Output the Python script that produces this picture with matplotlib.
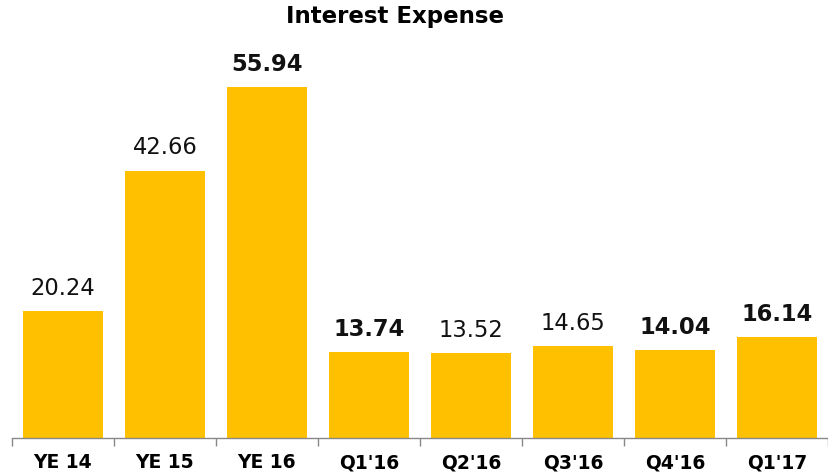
import matplotlib
matplotlib.use("Agg")
import matplotlib.pyplot as plt

categories = ["YE 14", "YE 15", "YE 16", "Q1'16", "Q2'16", "Q3'16", "Q4'16", "Q1'17"]
values = [20.24, 42.66, 55.94, 13.74, 13.52, 14.65, 14.04, 16.14]
bold_labels = [False, False, True, True, False, False, True, True]

W, H = 829, 472
fig = plt.figure(figsize=(W / 100, H / 100), dpi=100)
left, right, bottom, top = 12, 828, 438, 40
ax = fig.add_axes([left / W, 1 - bottom / H, (right - left) / W, (bottom - top) / H])

px_per_unit = 6.27
ax.set_ylim(0, (bottom - top) / px_per_unit)
ax.set_xlim(-0.5, len(categories) - 0.5)

x = range(len(categories))
bars = ax.bar(x, values, width=0.78, color="#FFC000", edgecolor="none")

for xi, v, b in zip(x, values, bold_labels):
    ax.annotate(f"{v:.2f}", (xi, v), xytext=(0, 8), textcoords="offset points",
                ha="center", va="bottom", fontsize=16.3,
                fontweight="bold" if b else "normal", color="#111111")

for s in ["top", "right", "left"]:
    ax.spines[s].set_visible(False)
ax.spines["bottom"].set_color("#888888")
ax.spines["bottom"].set_linewidth(1.0)
ax.set_yticks([])

ax.set_xticks([i - 0.5 for i in range(len(categories) + 1)], minor=False)
ax.set_xticklabels([])
ax.tick_params(axis="x", which="major", length=6, color="#888888", width=1)
ax.set_xticks(list(x), minor=True)
ax.set_xticklabels(categories, minor=True, fontsize=13.5, fontweight="bold")
ax.tick_params(axis="x", which="minor", length=0, pad=11)

fig.text(395 / W, 1 - 16 / H, "Interest Expense", ha="center", va="center",
         fontsize=16.5, fontweight="bold")

fig.savefig("out.png", dpi=100)
